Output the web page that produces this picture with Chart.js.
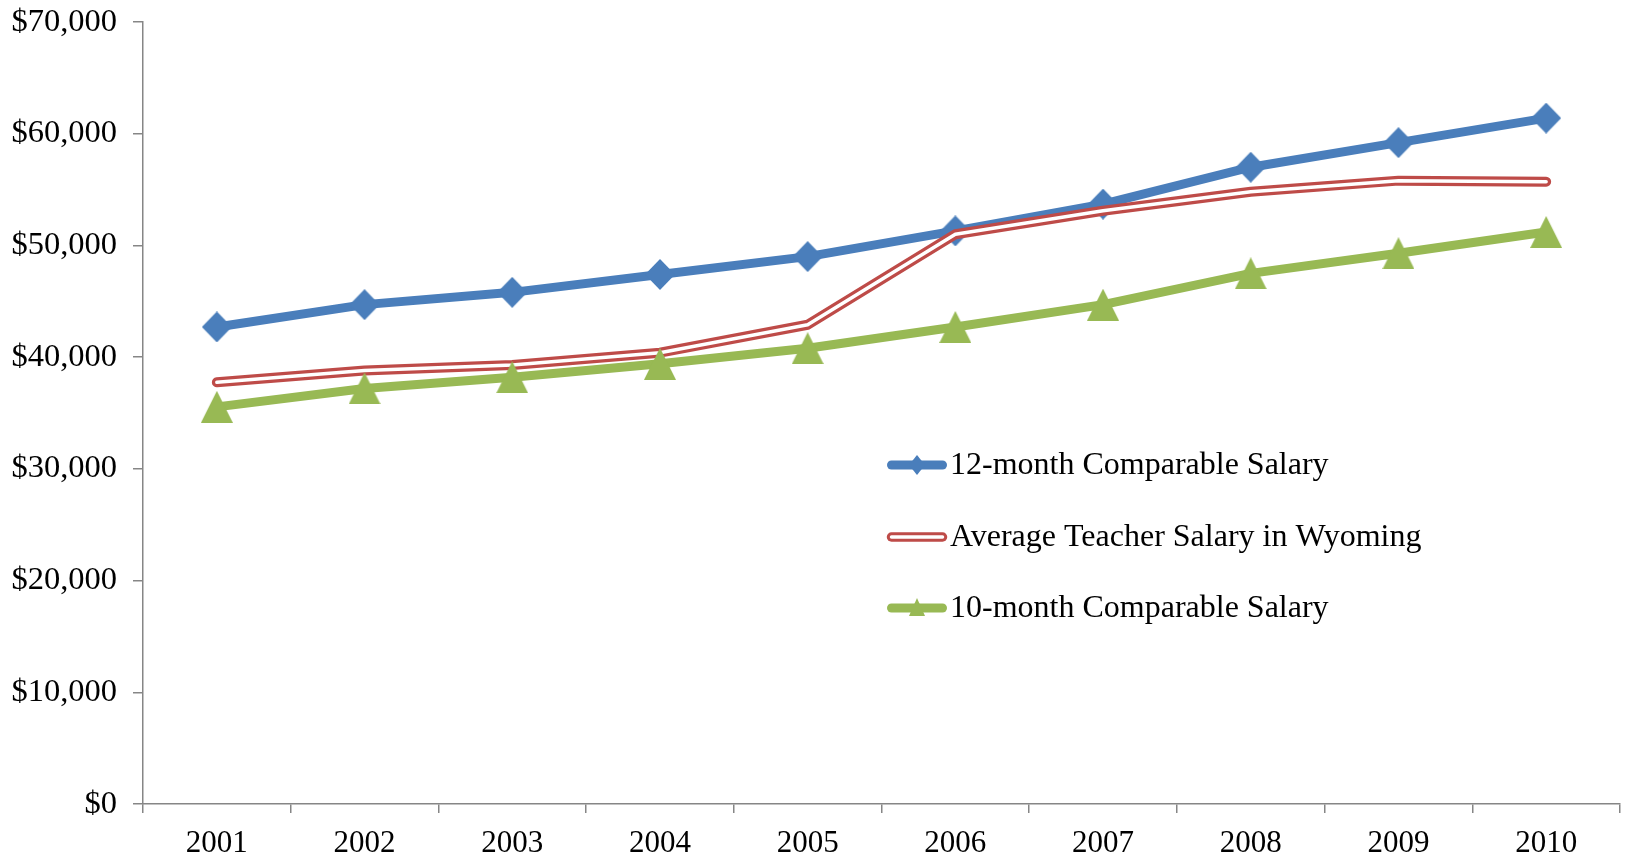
<!DOCTYPE html>
<html>
<head>
<meta charset="utf-8">
<script src="https://cdn.jsdelivr.net/npm/chart.js@4"></script>
<style>
  html, body { margin: 0; padding: 0; background: #fff; }
  #wrap { width: 1625px; height: 859px; position: relative; }
</style>
</head>
<body>
<div id="wrap"><canvas id="c" width="1625" height="859"></canvas></div>
<script>
// ---- data ----
const years = ['2001', '2002', '2003', '2004', '2005', '2006', '2007', '2008', '2009', '2010'];
const salary12Month = [42700, 44700, 45800, 47400, 49000, 51300, 53700, 57000, 59200, 61400];
const teacherWyoming = [37750, 38800, 39300, 40400, 42900, 51000, 53100, 54800, 55800, 55700];
const salary10Month = [35550, 37200, 38200, 39400, 40800, 42700, 44700, 47500, 49300, 51200];
const seriesNames = ['12-month Comparable Salary', 'Average Teacher Salary in Wyoming', '10-month Comparable Salary'];
const yMin = 0, yMax = 70000, yStep = 10000;

// ---- styles ----
const BLUE = '#4A7EBB', RED = '#BE4B48', GREEN = '#98B954', AXIS = '#868686';
const FONT = 'Liberation Serif, "Times New Roman", serif';

function diamondImg(w, h, color) {
  const c = document.createElement('canvas');
  c.width = w; c.height = h;
  const g = c.getContext('2d');
  g.fillStyle = color;
  g.beginPath();
  g.moveTo(w / 2, 0); g.lineTo(w, h / 2); g.lineTo(w / 2, h); g.lineTo(0, h / 2);
  g.closePath(); g.fill();
  return c;
}
function triangleImg(w, h, color) {
  const c = document.createElement('canvas');
  c.width = w; c.height = h;
  const g = c.getContext('2d');
  g.fillStyle = color;
  g.beginPath();
  g.moveTo(w / 2, 0); g.lineTo(w, h); g.lineTo(0, h);
  g.closePath(); g.fill();
  return c;
}
const diamond = diamondImg(30, 31, BLUE);
const triangle = triangleImg(32, 32, GREEN);

const legendPlugin = {
  id: 'customLegend',
  afterDraw(chart) {
    const ctx = chart.ctx;
    const x0 = 887, x1 = 947, tx = 950;
    const rows = [465, 537, 608];
    const mx = (x0 + x1) / 2;
    ctx.save();
    ctx.lineCap = 'round';
    // row 1: blue
    ctx.strokeStyle = BLUE; ctx.lineWidth = 9;
    ctx.beginPath(); ctx.moveTo(x0 + 4.5, rows[0]); ctx.lineTo(x1 - 4.5, rows[0]); ctx.stroke();
    ctx.fillStyle = BLUE;
    ctx.beginPath();
    ctx.moveTo(mx, rows[0] - 10); ctx.lineTo(mx + 8, rows[0]); ctx.lineTo(mx, rows[0] + 10); ctx.lineTo(mx - 8, rows[0]);
    ctx.closePath(); ctx.fill();
    // row 2: red double
    ctx.strokeStyle = RED; ctx.lineWidth = 9.5;
    ctx.beginPath(); ctx.moveTo(x0 + 4.5, rows[1]); ctx.lineTo(x1 - 4.5, rows[1]); ctx.stroke();
    ctx.strokeStyle = '#fff'; ctx.lineWidth = 3.5;
    ctx.beginPath(); ctx.moveTo(x0 + 4.5, rows[1]); ctx.lineTo(x1 - 4.5, rows[1]); ctx.stroke();
    // row 3: green
    ctx.strokeStyle = GREEN; ctx.lineWidth = 9;
    ctx.beginPath(); ctx.moveTo(x0 + 4.5, rows[2]); ctx.lineTo(x1 - 4.5, rows[2]); ctx.stroke();
    ctx.fillStyle = GREEN;
    ctx.beginPath();
    ctx.moveTo(mx, rows[2] - 10); ctx.lineTo(mx + 8, rows[2] + 8); ctx.lineTo(mx - 8, rows[2] + 8);
    ctx.closePath(); ctx.fill();
    // text
    ctx.fillStyle = '#000';
    ctx.font = '32px ' + FONT;
    ctx.textBaseline = 'middle';
    ctx.textAlign = 'left';
    seriesNames.forEach((n, i) => ctx.fillText(n, tx, rows[i] + 1));
    ctx.restore();
  }
};

Chart.defaults.color = '#000';
Chart.defaults.font.family = FONT;
Chart.defaults.font.size = 31;

new Chart(document.getElementById('c'), {
  type: 'line',
  data: {
    labels: years,
    datasets: [
      {
        label: seriesNames[0], data: salary12Month, order: 4,
        borderColor: BLUE, backgroundColor: BLUE, borderWidth: 9,
        pointStyle: diamond, pointRadius: 15, tension: 0,
        borderJoinStyle: 'round'
      },
      {
        label: seriesNames[1], data: teacherWyoming, order: 3,
        borderColor: RED, borderWidth: 10, pointRadius: 0, tension: 0,
        borderCapStyle: 'round', borderJoinStyle: 'round'
      },
      {
        label: seriesNames[1] + ' (inner)', data: teacherWyoming, order: 2,
        borderColor: '#fff', borderWidth: 3.5, pointRadius: 0, tension: 0,
        borderCapStyle: 'round', borderJoinStyle: 'round'
      },
      {
        label: seriesNames[2], data: salary10Month, order: 1,
        borderColor: GREEN, backgroundColor: GREEN, borderWidth: 9,
        pointStyle: triangle, pointRadius: 16, tension: 0,
        borderJoinStyle: 'round'
      }
    ]
  },
  options: {
    responsive: false,
    animation: false,
    events: [],
    layout: { autoPadding: false, padding: { top: 22, right: 5, left: 0, bottom: 0 } },
    plugins: { legend: { display: false }, tooltip: { enabled: false } },
    scales: {
      x: {
        offset: true,
        grid: { drawOnChartArea: false, drawTicks: true, tickLength: 9, color: AXIS, lineWidth: 1.5, offset: true },
        border: { color: AXIS, width: 1.5 },
        ticks: { padding: 12, maxRotation: 0, autoSkip: false, color: '#000' },
        afterFit(scale) {
          scale.height = 55;
          scale.paddingLeft = 0; scale.paddingRight = 0;
          scale.paddingTop = 0; scale.paddingBottom = 0;
        }
      },
      y: {
        min: yMin, max: yMax,
        grid: { drawOnChartArea: false, drawTicks: true, tickLength: 10, color: AXIS, lineWidth: 1.5 },
        border: { color: AXIS, width: 1.5 },
        ticks: {
          stepSize: yStep, padding: 16, color: '#000', font: { size: 32.5 },
          callback: v => '$' + v.toLocaleString('en-US')
        },
        afterFit(scale) {
          scale.width = 143;
          scale.paddingLeft = 0; scale.paddingRight = 0;
          scale.paddingTop = 0; scale.paddingBottom = 0;
        }
      }
    }
  },
  plugins: [legendPlugin]
});
</script>
</body>
</html>
